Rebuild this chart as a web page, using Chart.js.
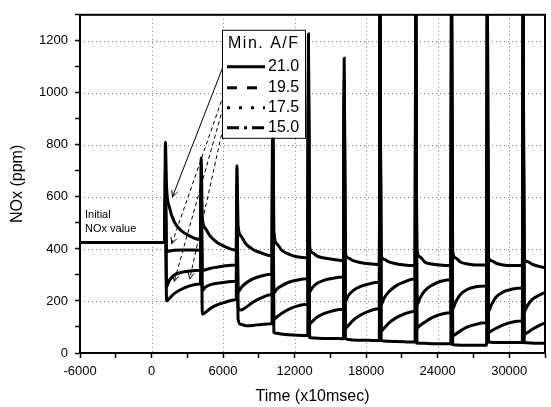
<!DOCTYPE html>
<html>
<head>
<meta charset="utf-8">
<title>NOx vs time</title>
<script src="https://cdn.jsdelivr.net/npm/chart.js@4.4.1/dist/chart.umd.min.js"></script>
<style>
  html, body { margin: 0; padding: 0; background: #fff; }
  #wrap { width: 551px; height: 407px; }
</style>
</head>
<body>
<div id="wrap"><canvas id="chart" width="551" height="407"></canvas></div>
<script>
// sample times (x10 msec), shared by the four traces
const time = [-6000, 1100,
  1160, 1260, 1500, 1900, 2500, 3200, 4000,
  4100, 4160, 4260, 4500, 4900, 5500, 6200, 7000,
  7100, 7160, 7260, 7500, 7900, 8500, 9200, 10000,
  10100, 10160, 10260, 10500, 10900, 11500, 12200, 13000,
  13100, 13160, 13260, 13500, 13900, 14500, 15200, 16000,
  16100, 16160, 16260, 16500, 16900, 17500, 18200, 19000,
  19100, 19160, 19260, 19500, 19900, 20500, 21200, 22000,
  22100, 22160, 22260, 22500, 22900, 23500, 24200, 25000,
  25100, 25160, 25260, 25500, 25900, 26500, 27200, 28000,
  28100, 28160, 28260, 28500, 28900, 29500, 30200, 31000,
  31100, 31160, 31260, 31500, 31900, 32500, 33000];

// NOx (ppm) for each minimum A/F
const nox210 = [425, 425,
  810, 640, 560, 505, 470, 450, 437,
  437, 750, 520, 480, 450, 425, 408, 396,
  396, 720, 490, 450, 420, 398, 385, 374,
  374, 1000, 470, 420, 396, 380, 370, 366,
  366, 1226, 410, 385, 372, 365, 360, 355,
  355, 1133, 385, 365, 355, 348, 343, 340,
  340, 1000, 375, 360, 350, 343, 338, 336,
  336, 1000, 400, 370, 350, 342, 338, 336,
  336, 1000, 390, 365, 350, 342, 338, 338,
  338, 1000, 370, 355, 345, 338, 336, 336,
  336, 1000, 365, 352, 342, 333, 328];

const nox195 = [425, 425,
  700, 390, 392, 395, 396, 396, 395,
  395, 650, 315, 320, 325, 330, 335, 338,
  338, 650, 235, 250, 268, 285, 296, 303,
  303, 900, 230, 245, 258, 272, 280, 285,
  285, 1100, 235, 252, 268, 280, 287, 292,
  292, 1050, 200, 220, 240, 255, 265, 272,
  272, 1400, 187, 210, 235, 258, 273, 284,
  284, 1400, 185, 210, 238, 260, 275, 282,
  282, 1400, 170, 195, 225, 245, 255, 258,
  258, 1400, 160, 185, 215, 235, 245, 250,
  250, 1400, 160, 180, 205, 222, 232];

const nox175 = [425, 425,
  600, 255, 280, 300, 310, 315, 318,
  318, 600, 240, 252, 262, 268, 272, 276,
  276, 600, 175, 165, 175, 195, 212, 224,
  224, 850, 130, 138, 152, 168, 180, 187,
  187, 1000, 112, 122, 138, 152, 162, 168,
  168, 1000, 95, 105, 125, 145, 160, 170,
  170, 1400, 85, 95, 115, 135, 150, 160,
  160, 1400, 95, 105, 118, 135, 148, 155,
  155, 1400, 65, 72, 85, 100, 110, 116,
  116, 1400, 80, 85, 95, 108, 118, 123,
  123, 1400, 72, 78, 90, 105, 116];

const nox150 = [425, 425,
  600, 200, 210, 228, 245, 258, 265,
  265, 600, 150, 155, 170, 185, 195, 205,
  205, 600, 130, 110, 105, 106, 110, 112,
  112, 800, 80, 76, 73, 70, 68, 67,
  67, 950, 60, 58, 57, 56, 56, 55,
  55, 950, 55, 52, 50, 49, 49, 48,
  48, 1400, 48, 46, 45, 44, 43, 42,
  42, 1400, 38, 37, 37, 36, 36, 36,
  36, 1400, 32, 31, 30, 30, 30, 30,
  30, 1400, 42, 41, 40, 40, 40, 40,
  40, 1400, 40, 39, 38, 37, 37];

const afLabels = ['21.0', '19.5', '17.5', '15.0'];
const xMajor = [-6000, 0, 6000, 12000, 18000, 24000, 30000];
const yMajor = [0, 200, 400, 600, 800, 1000, 1200];

const FONT = "'Liberation Sans', Arial, sans-serif";
const series = [nox210, nox195, nox175, nox150];
const dashes = [[], [10, 10], [3, 9], [12, 5, 3, 5]];

// dotted grid at the labelled ticks only
const dottedGrid = {
  id: 'dottedGrid',
  beforeDatasetsDraw(chart) {
    const ctx = chart.ctx;
    const a = chart.chartArea;
    const xs = chart.scales.x, ys = chart.scales.y;
    ctx.save();
    ctx.strokeStyle = '#7a7a7a';
    ctx.lineWidth = 1;
    ctx.setLineDash([1, 3]);
    xMajor.forEach(v => {
      if (v <= xs.min) return;
      const px = Math.round(xs.getPixelForValue(v)) + 0.5;
      ctx.beginPath();
      ctx.moveTo(px, a.top);
      ctx.lineTo(px, a.bottom);
      ctx.stroke();
    });
    yMajor.forEach(v => {
      if (v <= ys.min) return;
      const py = Math.round(ys.getPixelForValue(v)) + 0.5;
      ctx.beginPath();
      ctx.moveTo(a.left, py);
      ctx.lineTo(a.right, py);
      ctx.stroke();
    });
    ctx.restore();
  }
};

// legend box, pointer lines and the "Initial NOx value" note
const overlay = {
  id: 'overlay',
  afterDatasetsDraw(chart) {
    const ctx = chart.ctx;
    const a = chart.chartArea;
    const xs = chart.scales.x, ys = chart.scales.y;
    ctx.save();

    // frame on top and right
    ctx.strokeStyle = '#000';
    ctx.lineWidth = 2;
    ctx.strokeRect(a.left, a.top, a.right - a.left, a.bottom - a.top);

    const bl = a.left + 142, bt = a.top + 15, br = a.left + 225, bb = a.top + 123;
    const rows = [a.top + 52, a.top + 73, a.top + 93, a.top + 113];

    // pointers from legend entries to the curves
    const targets = [[1750, 600], [1700, 420], [1900, 275], [3200, 285]];
    const starts = [bl + 1, bl + 4, bl + 1, bl + 1];
    targets.forEach((tg, i) => {
      const x0 = starts[i], y0 = rows[i];
      const x1 = xs.getPixelForValue(tg[0]), y1 = ys.getPixelForValue(tg[1]);
      ctx.lineWidth = 1;
      ctx.setLineDash(i === 0 ? [] : [4, 3]);
      ctx.beginPath();
      ctx.moveTo(x0, y0);
      ctx.lineTo(x1, y1);
      ctx.stroke();
      ctx.setLineDash([]);
      const ang = Math.atan2(y1 - y0, x1 - x0);
      ctx.beginPath();
      ctx.moveTo(x1 - 7 * Math.cos(ang - 0.45), y1 - 7 * Math.sin(ang - 0.45));
      ctx.lineTo(x1, y1);
      ctx.lineTo(x1 - 7 * Math.cos(ang + 0.45), y1 - 7 * Math.sin(ang + 0.45));
      ctx.stroke();
    });

    // legend
    ctx.fillStyle = '#fff';
    ctx.fillRect(bl, bt, br - bl, bb - bt);
    ctx.strokeStyle = '#000';
    ctx.lineWidth = 1;
    ctx.strokeRect(bl + 0.5, bt + 0.5, br - bl, bb - bt);

    ctx.fillStyle = '#000';
    ctx.font = '16px ' + FONT;
    ctx.textBaseline = 'middle';
    ctx.textAlign = 'left';
    if ('letterSpacing' in ctx) ctx.letterSpacing = '1.5px';
    ctx.fillText('Min. A/F', bl + 6, a.top + 29);
    if ('letterSpacing' in ctx) ctx.letterSpacing = '0px';
    afLabels.forEach((lab, i) => {
      ctx.lineWidth = 3;
      ctx.setLineDash(dashes[i]);
      ctx.beginPath();
      ctx.moveTo(bl + 5, rows[i]);
      ctx.lineTo(bl + 43, rows[i]);
      ctx.stroke();
      ctx.setLineDash([]);
      ctx.fillText(lab, bl + 46, rows[i]);
    });

    ctx.font = '11px ' + FONT;
    ctx.fillText('Initial', a.left + 5, 215);
    ctx.fillText('NOx value', a.left + 5, 229);
    ctx.restore();
  }
};

new Chart(document.getElementById('chart'), {
  type: 'line',
  data: {
    datasets: series.map((vals, i) => ({
      label: afLabels[i],
      data: time.map((t, k) => ({ x: t, y: vals[k] })),
      borderColor: '#000',
      borderWidth: 3,
      pointRadius: 0,
      cubicInterpolationMode: 'monotone',
      fill: false
    }))
  },
  options: {
    responsive: false,
    animation: false,
    devicePixelRatio: 1,
    layout: { padding: { top: 5, right: 5, left: 0, bottom: 0 } },
    plugins: {
      legend: { display: false },
      tooltip: { enabled: false }
    },
    scales: {
      x: {
        type: 'linear',
        min: -6000,
        max: 33000,
        afterFit(scale) { scale.height = 54; },
        border: { color: '#000', width: 2 },
        grid: {
          color: 'rgba(0,0,0,0)',
          tickColor: '#000',
          tickLength: 5,
          tickWidth: 1.5
        },
        ticks: {
          stepSize: 3000,
          autoSkip: false,
          maxRotation: 0,
          padding: 6,
          color: '#000',
          font: { family: FONT, size: 13 },
          callback: (v) => xMajor.includes(v) ? String(v) : ''
        },
        title: {
          display: true,
          text: 'Time (x10msec)',
          color: '#000',
          font: { family: FONT, size: 16 },
          padding: { top: 0, bottom: 1 }
        }
      },
      y: {
        min: 0,
        max: 1300,
        afterFit(scale) { scale.width = 80; },
        border: { color: '#000', width: 2 },
        grid: {
          color: 'rgba(0,0,0,0)',
          tickColor: '#000',
          tickLength: 5,
          tickWidth: 1.5
        },
        ticks: {
          stepSize: 100,
          autoSkip: false,
          padding: 7,
          color: '#000',
          font: { family: FONT, size: 13 },
          callback: (v) => yMajor.includes(v) ? String(v) : ''
        },
        title: {
          display: true,
          text: 'NOx (ppm)',
          color: '#000',
          font: { family: FONT, size: 16 },
          padding: { top: 8, bottom: 0 }
        }
      }
    }
  },
  plugins: [dottedGrid, overlay]
});
</script>
</body>
</html>
